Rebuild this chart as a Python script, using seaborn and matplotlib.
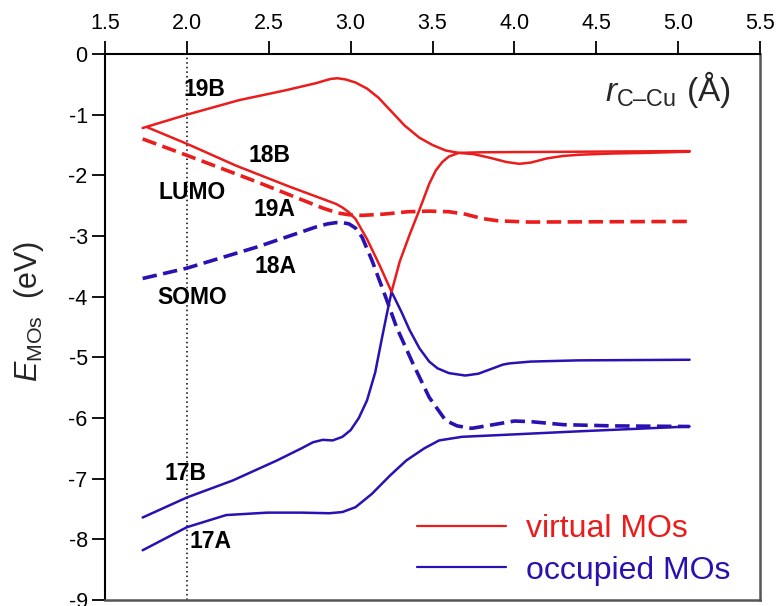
import numpy as np
import pandas as pd
import matplotlib
matplotlib.use("Agg")
import matplotlib.pyplot as plt
from matplotlib.lines import Line2D
import seaborn as sns

# ---------------- data ----------------
x_ticks = [1.5, 2.0, 2.5, 3.0, 3.5, 4.0, 4.5, 5.0, 5.5]
x_tick_labels = ["1.5", "2.0", "2.5", "3.0", "3.5", "4.0", "4.5", "5.0", "5.5"]
y_ticks = [0, -1, -2, -3, -4, -5, -6, -7, -8, -9]
y_tick_labels = ["0", "-1", "-2", "-3", "-4", "-5", "-6", "-7", "-8", "-9"]

# crossing point where the 17B / 18B curves change character (virtual <-> occupied)
cross_x = 3.25

mo19B_x = [1.73, 2.0, 2.32, 2.6, 2.79, 2.84, 2.88, 2.92, 2.97, 3.03, 3.1, 3.17, 3.25,
           3.33, 3.42, 3.5, 3.58, 3.66, 3.75, 3.85, 3.95, 4.03, 4.1, 4.2, 4.3, 4.4,
           4.6, 4.8, 5.07]
mo19B_y = [-1.22, -1.0, -0.76, -0.6, -0.48, -0.44, -0.41, -0.40, -0.42, -0.47, -0.57,
           -0.72, -0.95, -1.18, -1.38, -1.5, -1.59, -1.63, -1.65, -1.71, -1.78, -1.81,
           -1.79, -1.72, -1.68, -1.66, -1.64, -1.63, -1.61]

mo18B_x = [1.76, 2.0, 2.3, 2.63, 2.8, 2.91, 2.95, 2.99, 3.03, 3.1, 3.18, 3.25,
           3.31, 3.36, 3.42, 3.48, 3.53, 3.6, 3.7, 3.78, 3.86, 3.93, 3.97, 4.1,
           4.39, 5.07]
mo18B_y = [-1.21, -1.48, -1.84, -2.19, -2.36, -2.47, -2.53, -2.61, -2.72, -3.05, -3.5, -3.92,
           -4.25, -4.55, -4.85, -5.07, -5.18, -5.26, -5.30, -5.27, -5.19, -5.12, -5.10,
           -5.07, -5.05, -5.04]

mo17B_x = [1.73, 2.0, 2.28, 2.55, 2.7, 2.77, 2.83, 2.89, 2.95, 3.0, 3.05, 3.1, 3.15,
           3.19, 3.22, 3.25, 3.3, 3.36, 3.42, 3.48, 3.52, 3.56, 3.6, 3.66, 3.8, 5.07]
mo17B_y = [-7.64, -7.31, -7.03, -6.70, -6.5, -6.40, -6.36, -6.37, -6.31, -6.2, -6.0,
           -5.71, -5.25, -4.7, -4.3, -3.92, -3.42, -2.98, -2.57, -2.14, -1.92, -1.78,
           -1.69, -1.63, -1.62, -1.60]

mo19A_x = [1.73, 2.0, 2.43, 2.83, 2.92, 2.99, 3.07, 3.2, 3.35, 3.48, 3.6, 3.7, 3.8,
           3.9, 4.09, 5.07]
mo19A_y = [-1.40, -1.67, -2.11, -2.54, -2.62, -2.65, -2.66, -2.64, -2.60, -2.59, -2.6,
           -2.64, -2.71, -2.75, -2.77, -2.76]

mo18A_x = [1.73, 2.0, 2.43, 2.79, 2.86, 2.91, 2.95, 2.99, 3.03, 3.07, 3.13, 3.22, 3.28,
           3.38, 3.48, 3.58, 3.65, 3.74, 3.85, 4.0, 4.1, 4.3, 4.6, 5.07]
mo18A_y = [-3.70, -3.53, -3.18, -2.85, -2.80, -2.78, -2.78, -2.80, -2.87, -3.02, -3.40,
           -4.05, -4.50, -5.1, -5.66, -6.04, -6.13, -6.17, -6.12, -6.05, -6.06, -6.11,
           -6.13, -6.14]

mo17A_x = [1.73, 2.0, 2.24, 2.49, 2.7, 2.87, 2.95, 3.03, 3.13, 3.24, 3.34, 3.45, 3.54,
           3.68, 4.0, 4.39, 5.07]
mo17A_y = [-8.18, -7.80, -7.60, -7.56, -7.56, -7.57, -7.55, -7.47, -7.25, -6.95, -6.70,
           -6.50, -6.37, -6.31, -6.27, -6.22, -6.14]

orbital_labels = ["19B", "18B", "LUMO", "19A", "18A", "SOMO", "17B", "17A"]
orbital_label_x = [2.11, 2.505, 2.03, 2.535, 2.54, 2.03, 1.993, 2.145]
orbital_label_y = [-0.59, -1.68, -2.28, -2.56, -3.50, -4.01, -6.91, -8.04]

legend_labels = ["virtual MOs", "occupied MOs"]
marker_x = 2.0

x_label = "$r_{\\mathrm{C\u2013Cu}}$ (\u00c5)"
y_label = "$E_{\\mathrm{MOs}}$  (eV)"

# ---------------- style ----------------
RED = "#ea1c1c"
BLUE = "#2b10b2"

sns.set_theme(style="white")
plt.rcParams["font.family"] = ["Liberation Sans", "DejaVu Sans"]
plt.rcParams["axes.unicode_minus"] = False
plt.rcParams["mathtext.fontset"] = "custom"
plt.rcParams["mathtext.rm"] = "Liberation Sans"
plt.rcParams["mathtext.it"] = "Liberation Sans:italic"
plt.rcParams["mathtext.bf"] = "Liberation Sans:bold"

W, H = 776, 606
fig = plt.figure(figsize=(W / 100, H / 100), dpi=100)
left, right, top, bottom = 105, 760, 54, 600
ax = fig.add_axes([left / W, 1 - bottom / H, (right - left) / W, (bottom - top) / H])


def seg(xs, ys, lo=None, hi=None):
    xs = np.asarray(xs)
    ys = np.asarray(ys)
    m = np.ones_like(xs, dtype=bool)
    if lo is not None:
        m &= xs >= lo
    if hi is not None:
        m &= xs <= hi
    return pd.DataFrame({"r": xs[m], "E": ys[m]})


solid_lw = 1.8
dash_lw = 2.6
dash_pat = (4.0, 1.8)

curves = [
    (seg(mo19B_x, mo19B_y), RED, "solid"),
    (seg(mo18B_x, mo18B_y, hi=cross_x), RED, "solid"),
    (seg(mo18B_x, mo18B_y, lo=cross_x), BLUE, "solid"),
    (seg(mo17B_x, mo17B_y, hi=cross_x), BLUE, "solid"),
    (seg(mo17B_x, mo17B_y, lo=cross_x), RED, "solid"),
    (seg(mo17A_x, mo17A_y), BLUE, "solid"),
    (seg(mo19A_x, mo19A_y), RED, "dash"),
    (seg(mo18A_x, mo18A_y), BLUE, "dash"),
]

for df, col, ls in curves:
    sns.lineplot(data=df, x="r", y="E", ax=ax, color=col,
                 lw=solid_lw if ls == "solid" else dash_lw,
                 sort=False, estimator=None)
    if ls == "dash":
        ax.lines[-1].set_dashes(dash_pat)
    ax.lines[-1].set_solid_joinstyle("round")
    ax.lines[-1].set_dash_joinstyle("round")

ax.axvline(marker_x, color="black", lw=1.1, ls=(0, (1, 2)), zorder=0)

for t, x, y in zip(orbital_labels, orbital_label_x, orbital_label_y):
    ax.text(x, y, t, fontsize=16.5, fontweight="bold", ha="center", va="center",
            color="black")

# axes
ax.set_xlim(1.5, 5.5)
ax.set_ylim(-9, 0)
ax.xaxis.tick_top()
ax.set_xticks(x_ticks)
ax.set_xticklabels(x_tick_labels)
ax.set_yticks(y_ticks)
ax.set_yticklabels(y_tick_labels)
ax.tick_params(axis="x", which="both", direction="out", length=9.5, width=1.3,
               labelsize=15.5, pad=5, top=True, bottom=False, colors="black")
ax.tick_params(axis="y", which="both", direction="out", length=9.5, width=1.3,
               labelsize=15.5, pad=3, left=True, right=False, colors="black")
ax.set_xlabel("")
ax.set_ylabel("")
for s in ["left", "top"]:
    ax.spines[s].set_color("black")
    ax.spines[s].set_linewidth(1.5)
for s in ["right", "bottom"]:
    ax.spines[s].set_color("#555555")
    ax.spines[s].set_linewidth(1.8)
ax.grid(False)

ax.text(5.32, -0.58, x_label, fontsize=24, ha="right", va="center")
fig.text(29 / W, 1 - 311 / H, y_label, fontsize=22, rotation=90,
         ha="center", va="center")

handles = [Line2D([0], [0], color=RED, lw=1.6), Line2D([0], [0], color=BLUE, lw=1.6)]
leg = ax.legend(handles, legend_labels, loc="center left",
                bbox_to_anchor=((417 - left) / (right - left), (bottom - 550) / (bottom - top)),
                frameon=False, fontsize=23, handlelength=2.8, handletextpad=0.6,
                labelspacing=0.35, borderpad=0, borderaxespad=0)
for txt, col in zip(leg.get_texts(), [RED, BLUE]):
    txt.set_color(col)

fig.savefig("out.png", dpi=100)
